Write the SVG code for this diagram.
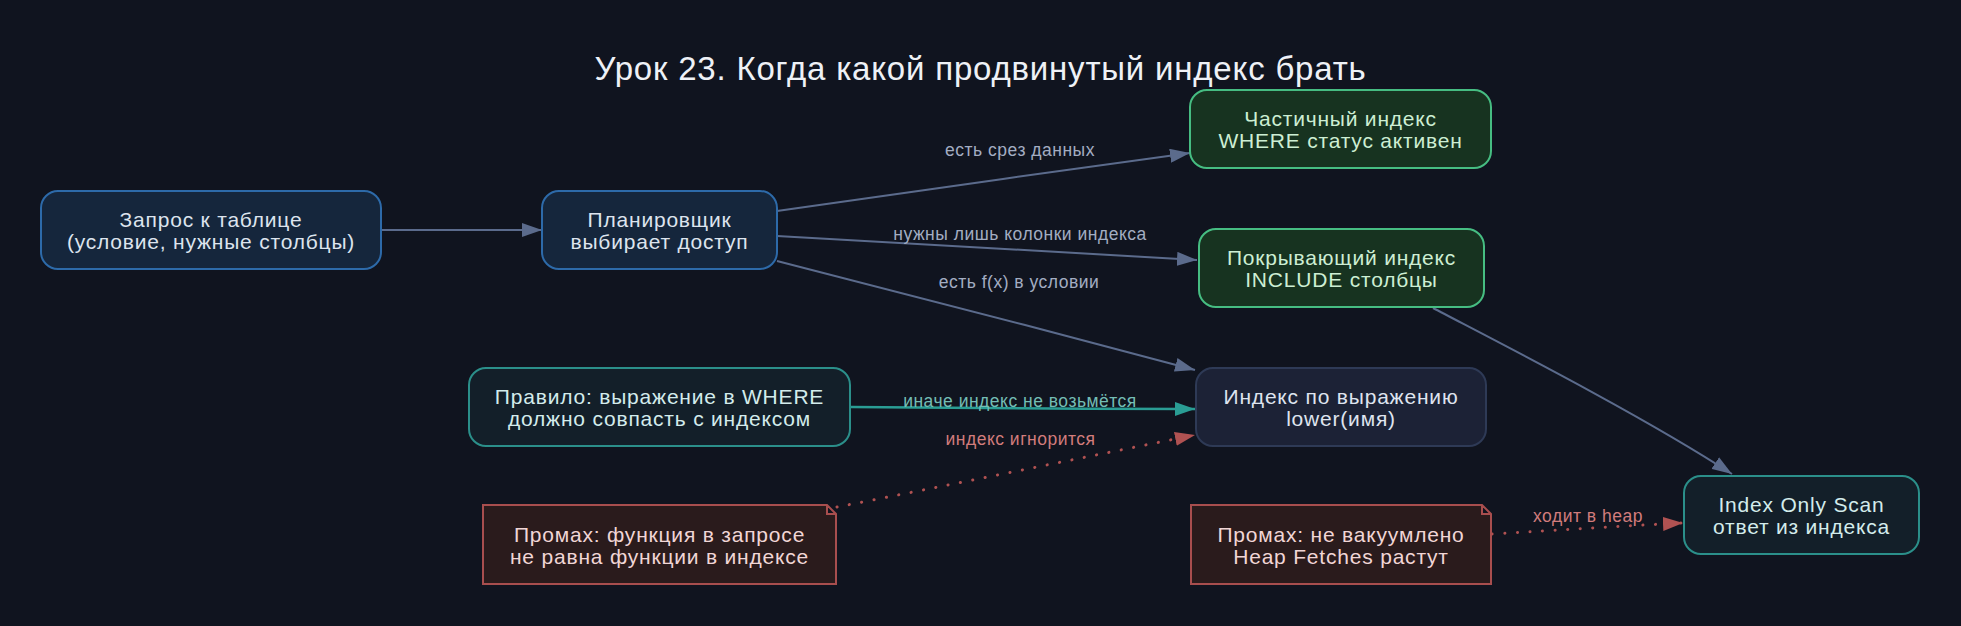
<svg xmlns="http://www.w3.org/2000/svg" width="1961" height="626" viewBox="0 0 1961 626">
<defs>
<style>
text{font-family:"Liberation Sans",Arial,sans-serif;text-anchor:middle}
.t{font-size:21px;letter-spacing:0.8px}
.lbl{font-size:17.5px;letter-spacing:0.5px;fill:#a3adc2}
.blue rect{fill:#15263c;stroke:#2d6aa9;stroke-width:2}
.blue text{fill:#dde4ee}
.green rect{fill:#173320;stroke:#46bd82;stroke-width:2}
.green text{fill:#cdeed3}
.slate rect{fill:#1c2236;stroke:#2e3a56;stroke-width:2}
.slate text{fill:#dfe4ef}
.teal rect{fill:#131f29;stroke:#2b8f8a;stroke-width:2}
.teal text{fill:#d3ecec}
.note path{fill:#2a1b1c;stroke:#a84e4e;stroke-width:2}
.note text{fill:#f1d6d6}
.e{fill:none;stroke:#5b6b8c;stroke-width:2}
.et{fill:none;stroke:#2a9d94;stroke-width:2.5}
.er{fill:none;stroke:#b05252;stroke-width:3;stroke-dasharray:0.1 12.5;stroke-linecap:round}
</style>
<marker id="ag" markerUnits="userSpaceOnUse" markerWidth="20" markerHeight="14" refX="20" refY="7" orient="auto"><path d="M0,0 L20,7 L0,14 z" fill="#5b6b8c"/></marker>
<marker id="at" markerUnits="userSpaceOnUse" markerWidth="20" markerHeight="14" refX="20" refY="7" orient="auto"><path d="M0,0 L20,7 L0,14 z" fill="#2a9d94"/></marker>
<marker id="ar" markerUnits="userSpaceOnUse" markerWidth="20" markerHeight="14" refX="20" refY="7" orient="auto"><path d="M0,0 L20,7 L0,14 z" fill="#b05252"/></marker>
</defs>
<rect x="0" y="0" width="1961" height="626" fill="#10141f"/>
<text x="980.5" y="80" style="font-size:33px;letter-spacing:0.8px" fill="#eef1f6">Урок 23. Когда какой продвинутый индекс брать</text>

<g id="edges">
<path class="e" d="M381,230 L542,230" marker-end="url(#ag)"/>
<path class="e" d="M777,211 C900,193 1060,171 1190,153" marker-end="url(#ag)"/>
<text class="lbl" x="1020" y="156">есть срез данных</text>
<path class="e" d="M777,236 C900,243 1060,252 1197,260" marker-end="url(#ag)"/>
<text class="lbl" x="1020" y="240">нужны лишь колонки индекса</text>
<path class="e" d="M777,261 C900,292 1060,334 1195,370" marker-end="url(#ag)"/>
<text class="lbl" x="1019" y="288">есть f(x) в условии</text>
<path class="et" d="M851,407 C960,408 1080,409 1195,409" marker-end="url(#at)"/>
<text class="lbl" x="1020" y="407" style="fill:#74bdb5">иначе индекс не возьмётся</text>
<path class="er" d="M837,507 C950,485 1080,458 1195,435" marker-end="url(#ar)"/>
<text class="lbl" x="1020.5" y="445" style="fill:#d27c7c">индекс игнорится</text>
<path class="e" d="M1433,308 C1490,338 1640,414 1732,474" marker-end="url(#ag)"/>
<path class="er" d="M1492,534 C1560,530 1620,526 1683,523" marker-end="url(#ar)"/>
<text class="lbl" x="1588" y="522" style="fill:#d27c7c">ходит в heap</text>
</g>

<g id="n1" class="blue"><rect x="41" y="191" width="340" height="78" rx="17"/><text class="t" x="211" y="226.7">Запрос к таблице</text><text class="t" x="211" y="249">(условие, нужные столбцы)</text></g>
<g id="n2" class="blue"><rect x="542" y="191" width="235" height="78" rx="17"/><text class="t" x="659.5" y="226.7">Планировщик</text><text class="t" x="659.5" y="249">выбирает доступ</text></g>
<g id="n3" class="green"><rect x="1190" y="90" width="301" height="78" rx="17"/><text class="t" x="1340.5" y="125.7">Частичный индекс</text><text class="t" x="1340.5" y="148">WHERE статус активен</text></g>
<g id="n4" class="green"><rect x="1199" y="229" width="285" height="78" rx="17"/><text class="t" x="1341.5" y="264.7">Покрывающий индекс</text><text class="t" x="1341.5" y="287">INCLUDE столбцы</text></g>
<g id="n5" class="slate"><rect x="1196" y="368" width="290" height="78" rx="17"/><text class="t" x="1341" y="403.7">Индекс по выражению</text><text class="t" x="1341" y="426">lower(имя)</text></g>
<g id="n6" class="teal"><rect x="469" y="368" width="381" height="78" rx="17"/><text class="t" x="659.5" y="403.7">Правило: выражение в WHERE</text><text class="t" x="659.5" y="426">должно совпасть с индексом</text></g>
<g id="n7" class="note"><path d="M483,505 L827,505 L836,514 L836,584 L483,584 z M827,505 L827,514 L836,514"/><text class="t" x="659.5" y="541.7">Промах: функция в запросе</text><text class="t" x="659.5" y="564">не равна функции в индексе</text></g>
<g id="n8" class="note"><path d="M1191,505 L1482,505 L1491,514 L1491,584 L1191,584 z M1482,505 L1482,514 L1491,514"/><text class="t" x="1341" y="541.7">Промах: не вакуумлено</text><text class="t" x="1341" y="564">Heap Fetches растут</text></g>
<g id="n9" class="teal"><rect x="1684" y="476" width="235" height="78" rx="17"/><text class="t" x="1801.5" y="511.7">Index Only Scan</text><text class="t" x="1801.5" y="534">ответ из индекса</text></g>
</svg>
